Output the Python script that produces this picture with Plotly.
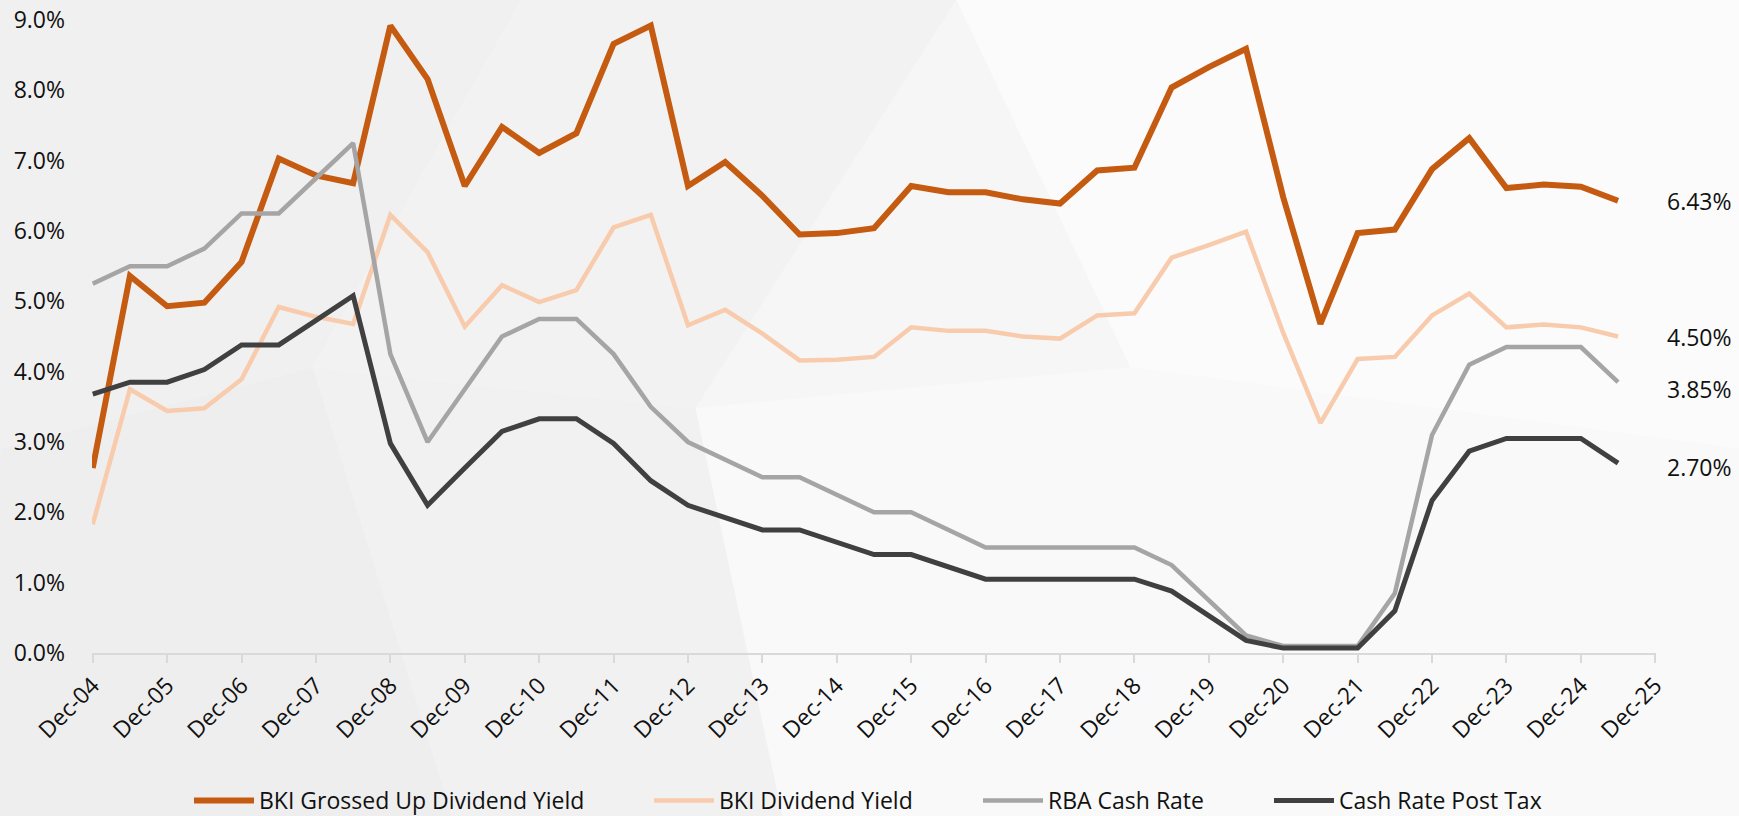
import plotly.graph_objects as go

periods = ["Dec-04","Jun-05","Dec-05","Jun-06","Dec-06","Jun-07","Dec-07","Jun-08",
           "Dec-08","Jun-09","Dec-09","Jun-10","Dec-10","Jun-11","Dec-11","Jun-12",
           "Dec-12","Jun-13","Dec-13","Jun-14","Dec-14","Jun-15","Dec-15","Jun-16",
           "Dec-16","Jun-17","Dec-17","Jun-18","Dec-18","Jun-19","Dec-19","Jun-20",
           "Dec-20","Jun-21","Dec-21","Jun-22","Dec-22","Jun-23","Dec-23","Jun-24",
           "Dec-24","Jun-25"]
axis_categories = periods + ["Dec-25"]
tick_labels = ["Dec-04","Dec-05","Dec-06","Dec-07","Dec-08","Dec-09","Dec-10","Dec-11",
               "Dec-12","Dec-13","Dec-14","Dec-15","Dec-16","Dec-17","Dec-18","Dec-19",
               "Dec-20","Dec-21","Dec-22","Dec-23","Dec-24","Dec-25"]

grossed_up_yield = [2.63, 5.36, 4.93, 4.98, 5.56, 7.03, 6.79, 6.68,
                    8.92, 8.16, 6.64, 7.48, 7.11, 7.39, 8.66, 8.92,
                    6.64, 6.98, 6.50, 5.95, 5.97, 6.04, 6.64, 6.55,
                    6.55, 6.45, 6.39, 6.86, 6.90, 8.04, 8.33, 8.59,
                    6.48, 4.68, 5.97, 6.02, 6.88, 7.32, 6.61, 6.66,
                    6.63, 6.43]
dividend_yield = [1.83, 3.75, 3.44, 3.48, 3.89, 4.92, 4.78, 4.68,
                  6.23, 5.70, 4.64, 5.23, 4.99, 5.16, 6.05, 6.23,
                  4.66, 4.88, 4.54, 4.16, 4.17, 4.21, 4.63, 4.58,
                  4.58, 4.50, 4.47, 4.80, 4.83, 5.62, 5.80, 5.99,
                  4.55, 3.27, 4.18, 4.21, 4.80, 5.11, 4.63, 4.67,
                  4.63, 4.50]
rba_cash_rate = [5.25, 5.50, 5.50, 5.75, 6.25, 6.25, 6.75, 7.25,
                 4.25, 3.00, 3.75, 4.50, 4.75, 4.75, 4.25, 3.50,
                 3.00, 2.75, 2.50, 2.50, 2.25, 2.00, 2.00, 1.75,
                 1.50, 1.50, 1.50, 1.50, 1.50, 1.25, 0.75, 0.25,
                 0.10, 0.10, 0.10, 0.85, 3.10, 4.10, 4.35, 4.35,
                 4.35, 3.85]
cash_rate_post_tax = [3.68, 3.85, 3.85, 4.03, 4.38, 4.38, 4.73, 5.08,
                      2.98, 2.10, 2.63, 3.15, 3.33, 3.33, 2.98, 2.45,
                      2.10, 1.93, 1.75, 1.75, 1.58, 1.40, 1.40, 1.23,
                      1.05, 1.05, 1.05, 1.05, 1.05, 0.88, 0.53, 0.18,
                      0.07, 0.07, 0.07, 0.60, 2.17, 2.87, 3.05, 3.05,
                      3.05, 2.70]
end_labels = ["6.43%", "4.50%", "3.85%", "2.70%"]
series_names = ["BKI Grossed Up Dividend Yield", "BKI Dividend Yield",
                "RBA Cash Rate", "Cash Rate Post Tax"]

W, H = 1739, 816
ML, MR, MT, MB = 92, 83, 20, 163
colors = ["#C55A11", "#F8CBAD", "#A5A5A5", "#404040"]
widths = [6, 4.5, 4.5, 5]
label_yshift = [0, 0, -7, -4]
legend_x_px = [189, 649, 978, 1269]
legend_ids = ["legend", "legend2", "legend3", "legend4"]

FONT = "Open Sans"
TXT = "#111111"
fig = go.Figure()
all_vals = [grossed_up_yield, dividend_yield, rba_cash_rate, cash_rate_post_tax]
for name, vals, color, w, lid in zip(series_names, all_vals, colors, widths, legend_ids):
    fig.add_trace(go.Scatter(x=periods, y=vals, mode="lines", name=name,
                             line=dict(color=color, width=w),
                             legend=lid, hoverinfo="skip"))

for vals, lab, ys in zip(all_vals, end_labels, label_yshift):
    fig.add_annotation(x=1, xref="paper", y=vals[-1], yref="y", text=lab,
                       showarrow=False, xanchor="left", yanchor="middle",
                       xshift=9, yshift=ys,
                       font=dict(family=FONT, size=23, color=TXT))

# subtle low-poly background texture (container fractions -> paper coords)
pw, ph = W - ML - MR, H - MT - MB
def cx(f):
    return (f * W - ML) / pw
def cy(f):
    return ((1 - f) * H - MB) / ph  # f measured from top
def poly(pts):
    return "M " + " L ".join(f"{cx(a):.4f},{cy(b):.4f}" for a, b in pts) + " Z"

bg_polys = [
    ([(0, 0), (0.30, 0), (0.18, 0.45), (0, 0.55)], "rgba(0,0,0,0.025)"),
    ([(0, 0.55), (0.18, 0.45), (0.26, 1), (0, 1)], "rgba(0,0,0,0.032)"),
    ([(0.30, 0), (0.55, 0), (0.40, 0.50), (0.18, 0.45)], "rgba(0,0,0,0.015)"),
    ([(0.18, 0.45), (0.40, 0.50), (0.45, 1), (0.26, 1)], "rgba(0,0,0,0.02)"),
    ([(0.55, 0), (1, 0), (1, 0.55), (0.65, 0.45)], "rgba(255,255,255,0.5)"),
    ([(0.40, 0.50), (0.65, 0.45), (1, 0.55), (1, 1), (0.45, 1)], "rgba(255,255,255,0.4)"),
]
for pts, col in bg_polys:
    fig.add_shape(type="path", path=poly(pts), xref="paper", yref="paper",
                  fillcolor=col, line=dict(width=0), layer="below")

legend_common = dict(orientation="h", xref="container", yref="container",
                     xanchor="left", yanchor="middle", y=0.019,
                     font=dict(family=FONT, size=23, color=TXT),
                     itemwidth=60, bgcolor="rgba(0,0,0,0)", borderwidth=0)
legends = {}
for lid, px in zip(legend_ids, legend_x_px):
    legends[lid] = dict(legend_common, x=px / W)

fig.update_layout(
    width=W, height=H,
    paper_bgcolor="#f6f6f6", plot_bgcolor="rgba(0,0,0,0)",
    margin=dict(l=ML, r=MR, t=MT, b=MB, autoexpand=False),
    font=dict(family=FONT, size=23, color=TXT),
    showlegend=True,
    xaxis=dict(type="category", categoryorder="array", categoryarray=axis_categories,
               range=[-0.02, 42.02], tickmode="array", tickvals=tick_labels,
               ticktext=tick_labels, tickangle=-45, showgrid=False, automargin=False,
               showline=True, linecolor="#D9D9D9", linewidth=2,
               ticks="outside", ticklen=8, tickwidth=2, tickcolor="#D9D9D9",
               tickfont=dict(family=FONT, size=23, color=TXT), zeroline=False),
    yaxis=dict(range=[0, 9], tickmode="array", tickvals=[0,1,2,3,4,5,6,7,8,9],
               ticktext=["0.0%","1.0%","2.0%","3.0%","4.0%","5.0%","6.0%","7.0%","8.0%","9.0%"],
               showgrid=False, showline=False, zeroline=False, ticks="", automargin=False,
               ticklabelstandoff=26,
               tickfont=dict(family=FONT, size=23, color=TXT)),
    **legends,
)

fig.write_html("out.html", config={"displayModeBar": False},
               post_script="document.body.style.margin='0';document.body.style.padding='0';")
